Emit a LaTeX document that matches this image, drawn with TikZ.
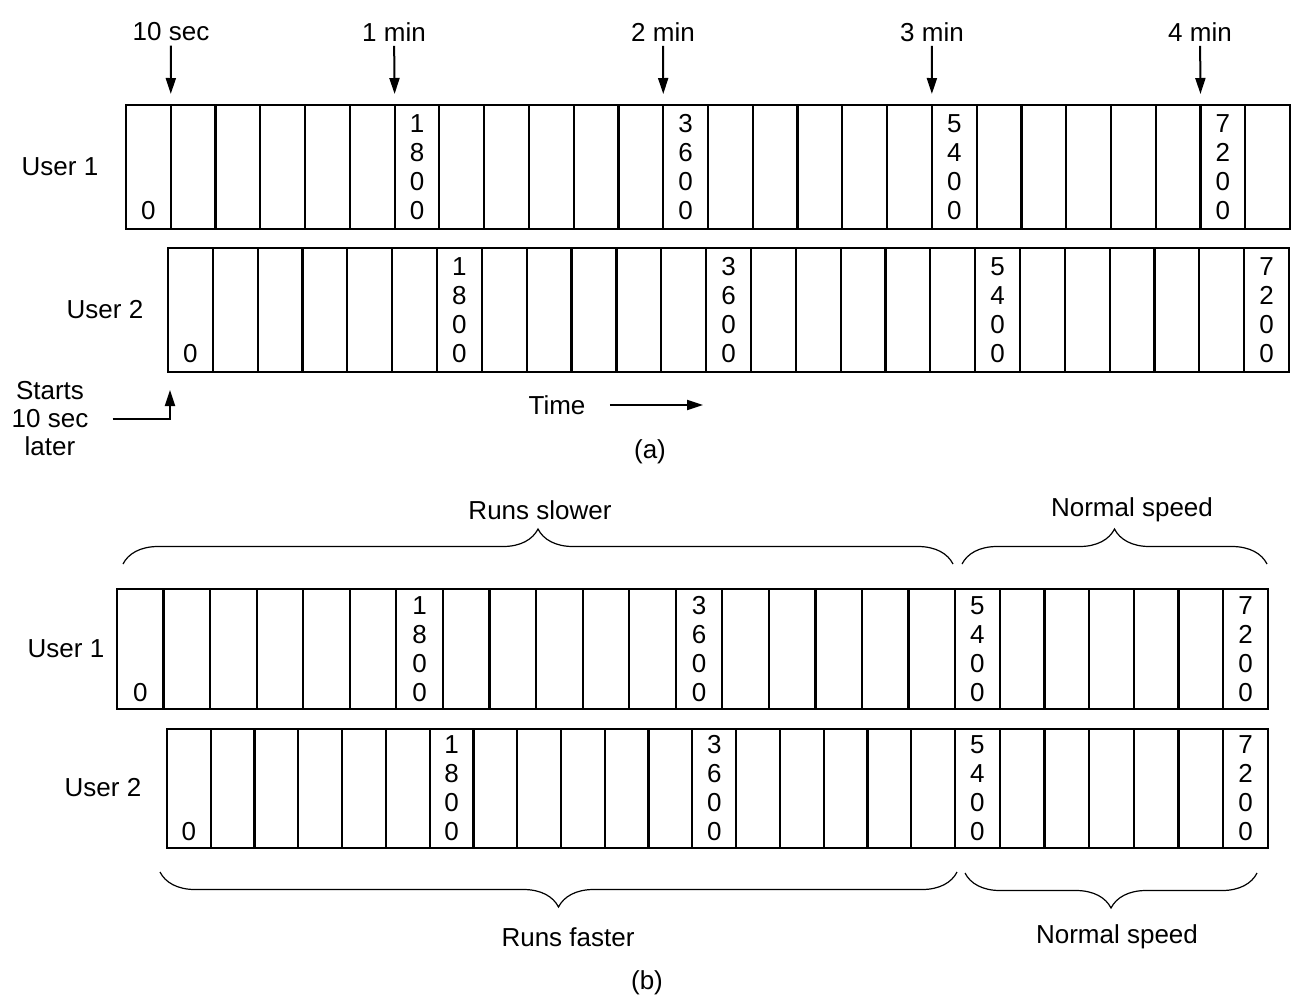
\documentclass[tikz,border=0pt]{standalone}
\usepackage{fontspec}
\setmainfont{Liberation Sans}
\usetikzlibrary{arrows.meta,decorations.pathreplacing,calc}
\tikzset{
  cell/.style={
    line width=1.1pt
  },
  num/.style={
    font=\fontsize{13}{14.5}\selectfont,
    align=center,
    inner sep=0pt
  },
  lbl/.style={
    font=\fontsize{13}{14}\selectfont,
    inner sep=2pt
  },
  tick/.style={
    line width=1pt,
    -{Triangle[length=8pt,width=5pt]}
  },
  curly/.style={
    decorate,
    decoration={brace,amplitude=17.5pt},
    line width=0.6pt
  }
}

\begin{document}
\begin{tikzpicture}[x=0.5pt,y=-0.5pt]
    \useasboundingbox (0,0) rectangle (1293,997);
    % (a) user 1
    \foreach \i in {0,...,25}
        \draw[cell] ({126+\i*44.77},105) rectangle ++(44.77,124);
    \node[lbl] (ua1) at (60,167) {User 1};
    \node[num] (aa0) at ({126+0.5*44.77},210.5) {0};
    \node[num] (aa1) at ({126+6.5*44.77},167) {1\\8\\0\\0};
    \node[num] (aa2) at ({126+12.5*44.77},167) {3\\6\\0\\0};
    \node[num] (aa3) at ({126+18.5*44.77},167) {5\\4\\0\\0};
    \node[num] (aa4) at ({126+24.5*44.77},167) {7\\2\\0\\0};
    % time marks
    \node[lbl] (m0) at (171,32) {10 sec};
    \node[lbl] (m1) at (394,32) {1 min};
    \node[lbl] (m2) at (663,32) {2 min};
    \node[lbl] (m3) at (932,32) {3 min};
    \node[lbl] (m4) at (1200,32) {4 min};
    \coordinate (p0) at ({126+1*44.77},94);
    \coordinate (p1) at ({126+6*44.77},94);
    \coordinate (p2) at ({126+12*44.77},94);
    \coordinate (p3) at ({126+18*44.77},94);
    \coordinate (p4) at ({126+24*44.77},94);
    \draw[tick] (m0) -- (p0);
    \draw[tick] (m1) -- (p1);
    \draw[tick] (m2) -- (p2);
    \draw[tick] (m3) -- (p3);
    \draw[tick] (m4) -- (p4);
    % (a) user 2
    \foreach \i in {0,...,24}
        \draw[cell] ({168+\i*44.84},248) rectangle ++(44.84,124);
    \node[lbl] (ua2) at (105,310) {User 2};
    \node[num] (ab0) at ({168+0.5*44.84},353.5) {0};
    \node[num] (ab1) at ({168+6.5*44.84},310) {1\\8\\0\\0};
    \node[num] (ab2) at ({168+12.5*44.84},310) {3\\6\\0\\0};
    \node[num] (ab3) at ({168+18.5*44.84},310) {5\\4\\0\\0};
    \node[num] (ab4) at ({168+24.5*44.84},310) {7\\2\\0\\0};
    \node[lbl,align=center] (st) at (50,419) {Starts\\10 sec\\later};
    \coordinate (sp) at (170,390);
    \draw[tick] ([xshift=10pt]st.east) -| (sp);
    \node[lbl] (tm) at (557,405) {Time};
    \coordinate (te) at (703,405);
    \draw[tick] ([xshift=10pt]tm.east) -- (te);
    \node[lbl] (capa) at (650,452) {(a)};
    % (b) braces on top
    \draw[curly] (123,564) -- (953,564);
    \draw[curly] (962,564) -- (1267,564);
    \node[lbl] (slow) at (540,510) {Runs slower};
    \node[lbl] (nsa) at (1132,510) {Normal speed};
    % (b) user 1
    \foreach \i in {0,...,17}
        \draw[cell] ({117+\i*46.56},589) rectangle ++(46.56,120);
    \foreach \i in {0,...,6}
        \draw[cell] ({955+\i*44.71},589) rectangle ++(44.71,120);
    \node[lbl] (ub1) at (66,649) {User 1};
    \node[num] (ba0) at ({117+0.5*46.56},692.5) {0};
    \node[num] (ba1) at ({117+6.5*46.56},649) {1\\8\\0\\0};
    \node[num] (ba2) at ({117+12.5*46.56},649) {3\\6\\0\\0};
    \node[num] (ba3) at ({955+0.5*44.71},649) {5\\4\\0\\0};
    \node[num] (ba4) at ({955+6.5*44.71},649) {7\\2\\0\\0};
    % (b) user 2
    \foreach \i in {0,...,17}
        \draw[cell] ({167+\i*43.78},729) rectangle ++(43.78,119);
    \foreach \i in {0,...,6}
        \draw[cell] ({955+\i*44.71},729) rectangle ++(44.71,119);
    \node[lbl] (ub2) at (103,788) {User 2};
    \node[num] (bb0) at ({167+0.5*43.78},832) {0};
    \node[num] (bb1) at ({167+6.5*43.78},788.5) {1\\8\\0\\0};
    \node[num] (bb2) at ({167+12.5*43.78},788.5) {3\\6\\0\\0};
    \node[num] (bb3) at ({955+0.5*44.71},788.5) {5\\4\\0\\0};
    \node[num] (bb4) at ({955+6.5*44.71},788.5) {7\\2\\0\\0};
    % (b) braces below
    \draw[curly] (957,872) -- (160,872);
    \draw[curly] (1257,873) -- (965,873);
    \node[lbl] (fast) at (568,937) {Runs faster};
    \node[lbl] (nsb) at (1117,937) {Normal speed};
    \node[lbl] (capb) at (647,983) {(b)};
\end{tikzpicture}
\end{document}
